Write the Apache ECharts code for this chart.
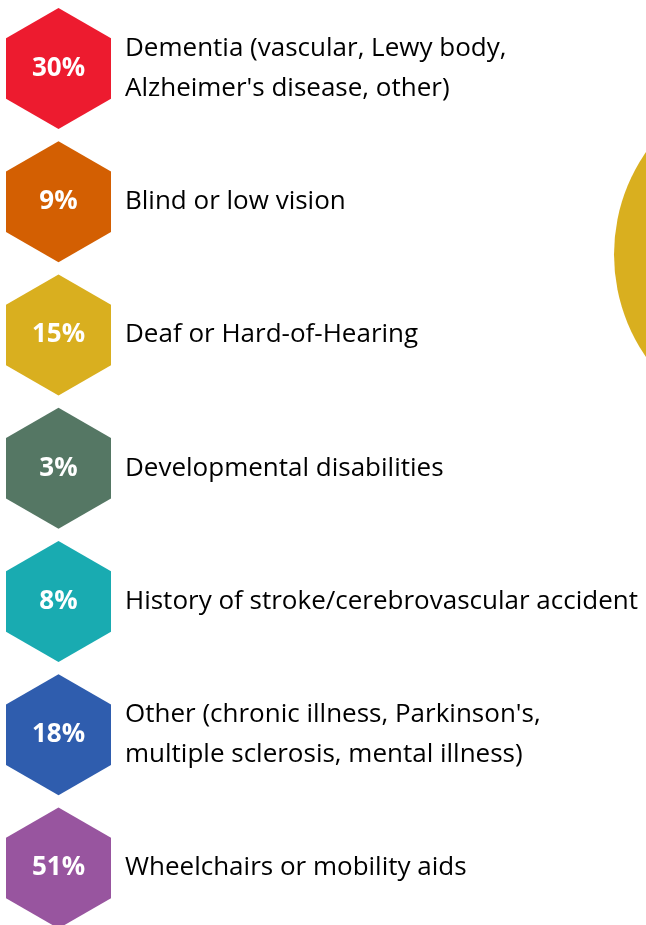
<!DOCTYPE html>
<html>
<head>
<meta charset="utf-8">
<script src="https://cdn.jsdelivr.net/npm/echarts@6/dist/echarts.min.js"></script>
<style>
  html, body { margin: 0; padding: 0; background: #fff; }
  #chart { width: 646px; height: 925px; }
</style>
</head>
<body>
<div id="chart"></div>
<script>
const categories = [
  "Dementia (vascular, Lewy body,\nAlzheimer's disease, other)",
  "Blind or low vision",
  "Deaf or Hard-of-Hearing",
  "Developmental disabilities",
  "History of stroke/cerebrovascular accident",
  "Other (chronic illness, Parkinson's,\nmultiple sclerosis, mental illness)",
  "Wheelchairs or mobility aids"
];
const percents = [30, 9, 15, 3, 8, 18, 51];
const colors = ["#ED1B2F", "#D35F02", "#D9AF1F", "#557764", "#19ABB1", "#2F5DAE", "#98559F"];

// pointy-top hexagon, stretched to symbolSize
const hexPath = "path://M50,0 L93.3,25 L93.3,75 L50,100 L6.7,75 L6.7,25 Z";
const hexSize = [105, 121];

const chart = echarts.init(document.getElementById("chart"));

const hexData = percents.map((v, i) => ({
  value: [0, categories[i]],
  pct: v,
  itemStyle: { color: colors[i], opacity: 1 }
}));

const option = {
  animation: false,
  grid: { left: 58.5, right: 0, top: 68.5, bottom: 57 },
  xAxis: { type: "value", min: 0, max: 1, show: false },
  yAxis: {
    type: "category",
    data: categories,
    inverse: true,
    boundaryGap: false,
    show: false
  },
  graphic: [
    {
      // part of the yellow circle cut off at the right edge
      type: "circle",
      shape: { cx: 794, cy: 254.5, r: 180 },
      style: { fill: "#D9AF1F" },
      silent: true
    }
  ],
  series: [
    {
      type: "scatter",
      clip: false,
      silent: true,
      symbol: hexPath,
      symbolSize: hexSize,
      itemStyle: { opacity: 1 },
      data: hexData,
      label: {
        show: true,
        position: "inside",
        formatter: p => p.data.pct + "%",
        color: "#fff",
        fontFamily: "Open Sans",
        fontWeight: "bold",
        fontSize: 26
      }
    },
    {
      type: "scatter",
      clip: false,
      silent: true,
      symbol: "rect",
      symbolSize: hexSize,
      itemStyle: { color: "rgba(0,0,0,0)", opacity: 1 },
      data: categories.map(c => [0, c]),
      label: {
        show: true,
        position: "right",
        distance: 14,
        formatter: p => p.value[1],
        color: "#000",
        fontFamily: "Open Sans",
        fontSize: 26,
        lineHeight: 40
      }
    }
  ]
};

chart.setOption(option);
</script>
</body>
</html>
